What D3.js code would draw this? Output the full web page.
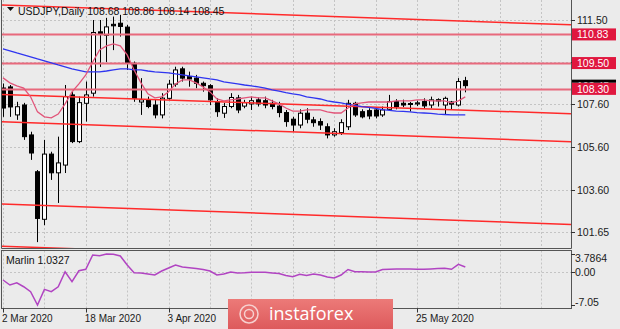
<!DOCTYPE html>
<html>
<head>
<meta charset="utf-8">
<script src="https://cdn.jsdelivr.net/npm/d3@7"></script>
<style>
  body { margin: 0; background: #ebebeb; }
  svg { display: block; font-family: "Liberation Sans", Arial, sans-serif; }
</style>
</head>
<body>
<div id="chart"></div>
<script>
// trading days shown on the chart
const dates = [
  '2020-03-02','2020-03-03','2020-03-04','2020-03-05','2020-03-06','2020-03-09','2020-03-10','2020-03-11',
  '2020-03-12','2020-03-13','2020-03-16','2020-03-17','2020-03-18','2020-03-19','2020-03-20','2020-03-23',
  '2020-03-24','2020-03-25','2020-03-26','2020-03-27','2020-03-30','2020-03-31','2020-04-01','2020-04-02',
  '2020-04-03','2020-04-06','2020-04-07','2020-04-08','2020-04-09','2020-04-10','2020-04-13','2020-04-14',
  '2020-04-15','2020-04-16','2020-04-17','2020-04-20','2020-04-21','2020-04-22','2020-04-23','2020-04-24',
  '2020-04-27','2020-04-28','2020-04-29','2020-04-30','2020-05-01','2020-05-04','2020-05-05','2020-05-06',
  '2020-05-07','2020-05-08','2020-05-11','2020-05-12','2020-05-13','2020-05-14','2020-05-15','2020-05-18',
  '2020-05-19','2020-05-20','2020-05-21','2020-05-22','2020-05-25','2020-05-26','2020-05-27','2020-05-28',
  '2020-05-29','2020-06-01','2020-06-02','2020-06-03'
]

const open = [108.34,108.39,107.09,107.55,106.16,104.45,102.24,105.27,104.40,104.76,108.02,105.85,107.63,108.10,110.95,110.79,
  111.30,111.35,111.17,109.49,107.69,107.79,107.55,107.09,107.86,108.52,109.23,108.87,108.80,108.56,108.45,107.70,
  107.17,107.48,107.88,107.50,107.60,107.79,107.75,107.63,107.50,107.20,106.89,106.62,107.17,106.86,106.78,106.54,
  106.16,106.27,106.54,107.63,107.24,107.29,107.32,107.09,107.35,107.71,107.63,107.62,107.60,107.71,107.55,107.74,
  107.55,107.69,107.55,108.68]
const high = [108.55,108.48,107.70,107.65,106.31,104.53,105.93,105.38,106.08,108.48,108.17,107.94,108.64,111.50,111.50,111.60,
  111.66,111.74,111.27,109.57,108.80,107.94,107.79,108.10,108.72,109.33,109.33,109.10,108.95,108.64,108.52,107.86,
  107.65,108.10,108.02,107.79,107.94,107.90,107.94,107.79,107.70,107.32,107.00,107.35,107.40,107.00,106.93,106.70,
  106.47,106.89,107.79,107.70,107.35,107.40,107.45,107.48,108.02,107.82,107.80,107.69,107.75,107.86,107.94,107.86,
  107.94,107.74,108.80,108.86]
const low = [107.00,107.00,106.86,105.93,105.00,101.18,101.97,104.07,103.00,104.39,105.78,105.78,106.78,107.94,109.32,109.55,
  110.10,110.73,109.18,107.70,107.09,107.40,106.93,106.93,107.79,108.40,108.64,108.40,108.33,108.17,107.55,107.00,
  106.95,107.40,107.17,107.40,107.32,107.48,107.40,107.35,106.98,106.54,106.31,106.47,106.70,106.54,106.39,106.00,
  106.08,106.16,106.39,107.00,106.93,106.89,106.93,107.00,107.32,107.35,107.45,107.25,107.50,107.40,107.40,107.48,
  107.09,107.32,107.48,108.14]
const close = [107.41,107.46,107.47,106.08,105.32,102.28,105.27,104.40,104.86,107.94,105.85,107.66,108.02,110.92,110.85,111.18,
  111.23,111.20,109.49,107.86,107.79,107.48,107.09,107.87,108.52,109.18,108.80,108.76,108.56,108.45,107.79,107.24,
  107.48,107.90,107.32,107.66,107.75,107.60,107.55,107.48,107.20,106.78,106.62,107.17,106.89,106.73,106.62,106.16,
  106.31,106.73,107.63,107.09,107.00,107.04,107.04,107.32,107.71,107.48,107.55,107.58,107.65,107.51,107.79,107.80,
  107.86,107.59,108.64,108.45]

// moving averages
const maFast = [108.81,108.58,108.44,108.34,107.93,107.23,107.00,106.95,107.13,107.60,108.16,108.53,108.95,109.55,110.11,110.30,
  110.39,110.30,109.88,109.18,108.58,108.07,107.88,107.93,108.16,108.53,108.72,108.72,108.58,108.39,108.16,107.83,
  107.74,107.79,107.83,107.88,107.93,107.88,107.88,107.74,107.60,107.41,107.27,107.27,107.32,107.32,107.32,107.23,
  107.18,107.18,107.41,107.60,107.65,107.69,107.69,107.69,107.69,107.74,107.74,107.74,107.79,107.79,107.74,107.74,
  107.74,107.65,107.74,107.93]
const maSlow = [110.16,110.07,109.97,109.88,109.79,109.69,109.60,109.51,109.41,109.32,109.23,109.16,109.09,109.09,109.09,109.13,
  109.18,109.23,109.23,109.18,109.18,109.13,109.09,109.07,109.04,109.00,108.95,108.90,108.86,108.81,108.76,108.72,
  108.62,108.58,108.53,108.48,108.44,108.39,108.34,108.25,108.20,108.13,108.07,108.02,107.93,107.88,107.83,107.74,
  107.69,107.65,107.58,107.53,107.48,107.44,107.39,107.34,107.30,107.27,107.25,107.23,107.20,107.18,107.16,107.13,
  107.11,107.09,107.09,107.09]

// Marlin oscillator (lower panel)
const marlin = [-1.74,-2.80,-2.32,-3.17,-4.23,-7.05,-3.72,-4.23,-3.17,0.02,-2.10,0.23,0.53,3.57,3.42,3.7864,
  3.72,3.36,1.44,-0.19,-0.25,-0.47,-0.68,0.17,0.81,1.44,1.02,0.87,0.70,0.49,0.17,-0.68,
  -0.47,-0.04,-0.25,-0.21,-0.11,-0.11,-0.11,-0.25,-0.36,-0.79,-1.04,-0.53,-0.79,-0.47,-0.68,-1.10,
  -1.32,-0.68,0.49,0.02,0.02,-0.04,-0.04,0.49,0.55,0.60,0.60,0.60,0.55,0.53,0.60,0.70,
  0.74,0.53,1.59,1.0327]

// horizontal levels and sloped channel lines (price at bar 0 and bar 80)
const levels = [110.83, 109.50, 108.30]
const lineStart = [112.20, 108.04, 106.77, 102.95, 100.99]
const lineEnd = [111.30, 107.17, 105.87, 102.03, 100.09]

const priceTicks = [111.50, 109.55, 107.60, 105.60, 103.60, 101.65]
const marlinTicks = [3.7864, 0.00, -7.05]
const dateLabels = [['2020-03-02','2 Mar 2020'],['2020-03-18','18 Mar 2020'],['2020-04-03','3 Apr 2020'],['2020-05-25','25 May 2020']]
const lastPrice = 108.45

const width = 620, height = 329
const left = 2, right = 571, mainBottom = 248.5, subTop = 250.5, subBottom = 308.5

const svg = d3.select('#chart').append('svg')
  .attr('width', width).attr('height', height)

svg.append('rect').attr('width', width).attr('height', height).attr('fill', '#ebebeb')

const x = d3.scaleLinear().domain([0, 82.32]).range([3, right])
const y = d3.scaleLinear().domain([101.65, 111.50]).range([232, 20])
const ym = d3.scaleLinear().domain([-7.05, 3.7864]).range([305, 254])
const px = v => Math.round(v) + 0.5

const defs = svg.append('defs')
defs.append('clipPath').attr('id', 'clipMain')
  .append('rect').attr('x', left).attr('y', 0).attr('width', right - left).attr('height', mainBottom)
defs.append('clipPath').attr('id', 'clipSub')
  .append('rect').attr('x', left).attr('y', subTop).attr('width', right - left).attr('height', subBottom - subTop)
// only the top strip of the bid label shows above the 108.30 box
defs.append('clipPath').attr('id', 'clipBid')
  .append('rect').attr('x', 572).attr('y', 0).attr('width', 48).attr('height', y(levels[2]) - 6)

// grid
const gridIdx = d3.range(0, 83, 6)
const grid = svg.append('g').attr('stroke', '#c4c4c4').attr('stroke-dasharray', '2,2').attr('stroke-width', 1)
grid.selectAll('.vg').data(gridIdx).enter().append('line')
  .attr('x1', d => px(x(d))).attr('x2', d => px(x(d))).attr('y1', 0).attr('y2', mainBottom)
grid.selectAll('.vs').data(gridIdx).enter().append('line')
  .attr('x1', d => px(x(d))).attr('x2', d => px(x(d))).attr('y1', subTop).attr('y2', subBottom)
grid.selectAll('.hg').data(priceTicks).enter().append('line')
  .attr('x1', left).attr('x2', right).attr('y1', d => px(y(d))).attr('y2', d => px(y(d)))
grid.append('line').attr('x1', left).attr('x2', right)
  .attr('y1', px(ym(0))).attr('y2', px(ym(0)))

const main = svg.append('g').attr('clip-path', 'url(#clipMain)')

// candles
const bars = dates.map((d, i) => ({i, o: open[i], h: high[i], l: low[i], c: close[i]}))
main.selectAll('.wick').data(bars).enter().append('line')
  .attr('x1', d => px(x(d.i))).attr('x2', d => px(x(d.i)))
  .attr('y1', d => y(d.h)).attr('y2', d => y(d.l))
  .attr('stroke', '#000').attr('stroke-width', 1)
main.selectAll('.body').data(bars).enter().append('rect')
  .attr('x', d => Math.round(x(d.i)) - 1.5)
  .attr('width', 4)
  .attr('y', d => y(Math.max(d.o, d.c)))
  .attr('height', d => Math.max(1, Math.abs(y(d.o) - y(d.c))))
  .attr('fill', d => d.c >= d.o ? '#fff' : '#000')
  .attr('stroke', '#000').attr('stroke-width', 1)

// channel lines, extended across the plot
const chan = lineStart.map((s, k) => ({s, e: lineEnd[k]}))
main.selectAll('.chan').data(chan).enter().append('line')
  .each(function (d) {
    const k = (y(d.e) - y(d.s)) / (x(80) - x(0))
    d3.select(this)
      .attr('x1', left).attr('y1', y(d.s) + k * (left - x(0)))
      .attr('x2', right).attr('y2', y(d.s) + k * (right - x(0)))
  })
  .attr('stroke', '#ff2a2a').attr('stroke-width', 1.5)

main.selectAll('.lvl').data(levels).enter().append('line')
  .attr('x1', left).attr('x2', right)
  .attr('y1', d => px(y(d))).attr('y2', d => px(y(d)))
  .attr('stroke', '#e8697c').attr('stroke-width', 2)

// moving averages
const lineMain = arr => d3.line().x((d, i) => x(i)).y(d => y(d))(arr)
main.append('path').attr('d', lineMain(maSlow))
  .attr('fill', 'none').attr('stroke', '#2f35f0').attr('stroke-width', 1.3)
main.append('path').attr('d', lineMain(maFast))
  .attr('fill', 'none').attr('stroke', '#e2567a').attr('stroke-width', 1.3)

// Marlin panel
svg.append('g').attr('clip-path', 'url(#clipSub)')
  .append('path').attr('d', d3.line().x((d, i) => x(i)).y(d => ym(d))(marlin))
  .attr('fill', 'none').attr('stroke', '#b144c2').attr('stroke-width', 1.5)

// frames
const frame = svg.append('g').attr('stroke', '#555').attr('fill', 'none').attr('stroke-width', 1)
frame.append('path').attr('d', `M${left - 0.5},0V${mainBottom}H${right + 0.5}V0`)
frame.append('rect').attr('x', left - 0.5).attr('y', subTop).attr('width', right - left + 1).attr('height', subBottom - subTop)

// price axis
const axis = svg.append('g').attr('font-size', 10.5).attr('fill', '#1a1a1a')
axis.selectAll('.pt').data(priceTicks).enter().append('line')
  .attr('x1', right).attr('x2', right + 4).attr('y1', d => px(y(d))).attr('y2', d => px(y(d)))
  .attr('stroke', '#333')
axis.selectAll('.pl').data(priceTicks.filter(d => d !== 109.55)).enter().append('text')
  .attr('x', 577).attr('y', d => y(d) + 4).text(d => d.toFixed(2))

// bid label, then level labels on top
const bid = axis.append('g').attr('clip-path', 'url(#clipBid)')
bid.append('rect').attr('x', 572).attr('y', y(lastPrice) - 6).attr('width', 44).attr('height', 12).attr('fill', '#000')
bid.append('text').attr('x', 577).attr('y', y(lastPrice) + 4).attr('fill', '#fff').text(lastPrice.toFixed(2))
axis.selectAll('.lb').data(levels).enter().append('rect')
  .attr('x', 572).attr('y', d => y(d) - 6).attr('width', 44).attr('height', 12).attr('fill', '#e0173f')
axis.selectAll('.lt').data(levels).enter().append('text')
  .attr('x', 577).attr('y', d => y(d) + 4).attr('fill', '#fff').text(d => d.toFixed(2))

// marlin axis
axis.selectAll('.mt').data(marlinTicks).enter().append('line')
  .attr('x1', right).attr('x2', right + 4).attr('y1', d => px(ym(d))).attr('y2', d => px(ym(d)))
  .attr('stroke', '#333')
axis.selectAll('.ml').data(marlinTicks).enter().append('text')
  .attr('x', 575)
  .attr('y', (d, i) => i === 0 ? ym(d) + 8 : i === 2 ? ym(d) + 1 : ym(d) + 4)
  .text((d, i) => i === 0 ? d.toFixed(4) : d.toFixed(2))

// date axis
const dateIdx = dateLabels.map(d => ({i: dates.indexOf(d[0]), t: d[1]}))
axis.selectAll('.dt').data(dateIdx).enter().append('line')
  .attr('x1', d => px(x(d.i))).attr('x2', d => px(x(d.i)))
  .attr('y1', subBottom).attr('y2', subBottom + 4).attr('stroke', '#333')
axis.selectAll('.dl').data(dateIdx).enter().append('text')
  .attr('x', d => x(d.i) - 1).attr('y', 322).attr('font-size', 10).text(d => d.t)

// titles
const hdr = svg.append('g').attr('font-size', 10.5).attr('fill', '#111')
hdr.append('path').attr('d', 'M7,7H14L10.5,11Z').attr('fill', '#111')
hdr.append('text').attr('x', 18).attr('y', 15)
  .text('USDJPY,Daily  ' + [open[67], high[67], low[67], close[67]].map(v => v.toFixed(2)).join(' '))
hdr.append('text').attr('x', 6).attr('y', 264).text('Marlin ' + marlin[67].toFixed(4))

// watermark
const grad = defs.append('linearGradient').attr('id', 'wmg').attr('x1', 0).attr('x2', 0).attr('y1', 0).attr('y2', 1)
grad.append('stop').attr('offset', 0).attr('stop-color', '#ec7a78')
grad.append('stop').attr('offset', 1).attr('stop-color', '#dd5a5c')
const wm = svg.append('g')
wm.append('rect').attr('x', 228).attr('y', 299).attr('width', 165).attr('height', 30).attr('fill', 'url(#wmg)')
wm.append('circle').attr('cx', 249).attr('cy', 314).attr('r', 9).attr('fill', 'none')
  .attr('stroke', '#f6d0cf').attr('stroke-width', 1.5)
wm.append('circle').attr('cx', 249).attr('cy', 314).attr('r', 4.5).attr('fill', 'none')
  .attr('stroke', '#f6d0cf').attr('stroke-width', 1.5)
wm.append('text').attr('x', 269).attr('y', 320).attr('fill', '#fff')
  .attr('font-family', '"Open Sans", sans-serif').attr('font-size', 18).text('instaforex')
</script>
</body>
</html>
